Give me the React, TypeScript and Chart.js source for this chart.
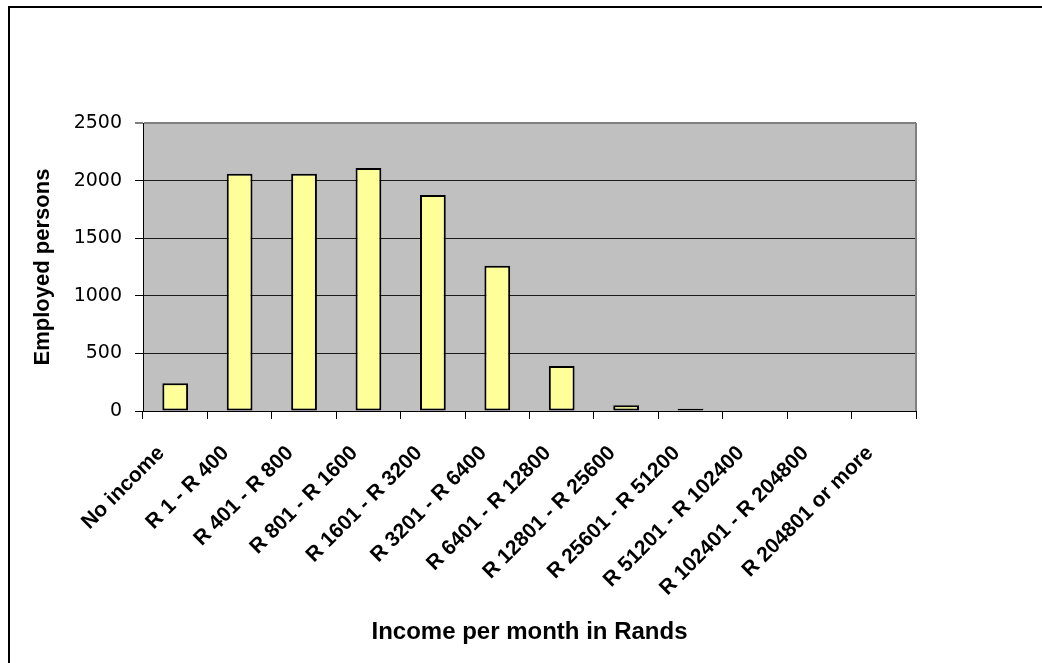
import React, { useEffect, useRef } from "react";
import { Chart, registerables } from "chart.js";

Chart.register(...registerables);

// Income bands (monthly, in Rand) and the number of employed persons in each
const incomeBands: string[] = [
  "No income",
  "R 1 - R 400",
  "R 401 - R 800",
  "R 801 - R 1600",
  "R 1601 - R 3200",
  "R 3201 - R 6400",
  "R 6401 - R 12800",
  "R 12801 - R 25600",
  "R 25601 - R 51200",
  "R 51201 - R 102400",
  "R 102401 - R 204800",
  "R 204801 or more",
];

const employedPersons: number[] = [240, 2060, 2060, 2110, 1875, 1260, 390, 50, 20, 0, 0, 0];

const yAxisMax = 2500;
const yAxisStep = 500;

const xAxisTitle = "Income per month in Rands";
const yAxisTitle = "Employed persons";

// Grey plot background plus the grey right-hand frame line
const plotFrame = {
  id: "plotFrame",
  beforeDraw(chart: Chart) {
    const { ctx, chartArea } = chart;
    ctx.save();
    ctx.fillStyle = "#C0C0C0";
    ctx.fillRect(chartArea.left, chartArea.top, chartArea.right - chartArea.left, chartArea.bottom - chartArea.top);
    ctx.restore();
  },
  beforeDatasetsDraw(chart: Chart) {
    const { ctx, chartArea } = chart;
    ctx.save();
    ctx.strokeStyle = "#808080";
    ctx.lineWidth = 2;
    ctx.beginPath();
    ctx.moveTo(chartArea.right, chartArea.top);
    ctx.lineTo(chartArea.right, chartArea.bottom);
    ctx.stroke();
    ctx.restore();
  },
};

function IncomeChart() {
  const canvasRef = useRef<HTMLCanvasElement | null>(null);

  useEffect(() => {
    if (!canvasRef.current) return;
    Chart.defaults.font.family = "'Liberation Sans', Arial, sans-serif";
    Chart.defaults.color = "#000";

    const chart = new Chart(canvasRef.current, {
      type: "bar",
      data: {
        labels: incomeBands,
        datasets: [
          {
            data: employedPersons,
            backgroundColor: "#FFFF99",
            borderColor: "#000",
            borderWidth: 2,
            borderSkipped: false,
            barPercentage: 0.4,
            categoryPercentage: 1,
          },
        ],
      },
      options: {
        animation: false,
        responsive: false,
        layout: { padding: { top: 115, right: 126, left: 0, bottom: 0 } },
        plugins: {
          legend: { display: false },
          tooltip: { enabled: false },
        },
        scales: {
          x: {
            afterFit(scale: any) {
              scale.height = 252;
            },
            offset: true,
            grid: {
              offset: true,
              drawOnChartArea: false,
              drawTicks: true,
              tickLength: 8,
              color: "#000",
            },
            border: { color: "#000", width: 1 },
            ticks: {
              autoSkip: false,
              maxRotation: 45,
              minRotation: 45,
              padding: 22,
              labelOffset: -14,
              color: "#000",
              font: { size: 21, weight: "bold" },
            },
            title: {
              display: true,
              text: xAxisTitle,
              color: "#000",
              font: { size: 24, weight: "bold" },
              padding: { top: 0, bottom: 16 },
            },
          },
          y: {
            afterFit(scale: any) {
              scale.width = 133;
            },
            min: 0,
            max: yAxisMax,
            grid: {
              color: (c: any) => (c.tick && c.tick.value === yAxisMax ? "#808080" : "#1a1a1a"),
              lineWidth: (c: any) => (c.tick && c.tick.value === yAxisMax ? 2 : 1),
              tickColor: "#000",
              tickLength: 8,
              tickWidth: 1,
            },
            border: { color: "#000", width: 1 },
            ticks: {
              stepSize: yAxisStep,
              padding: 13,
              color: "#000",
              callback: (v: any) => String(v),
              font: { family: "'DejaVu Sans', sans-serif", size: 19 },
            },
            title: {
              display: true,
              text: yAxisTitle,
              color: "#000",
              font: { size: 22, weight: "bold" },
              padding: { top: 20, bottom: 0 },
            },
          },
        },
      },
      plugins: [plotFrame],
    });

    return () => chart.destroy();
  }, []);

  return (
    <>
      <div
        style={{
          position: "fixed",
          left: 8,
          top: 6,
          width: 1034,
          height: 657,
          borderLeft: "2px solid #000",
          borderTop: "2px solid #000",
          boxSizing: "border-box",
          background: "#fff",
        }}
      />
      <div style={{ position: "fixed", left: 10, top: 8, width: 1032, height: 655 }}>
        <canvas ref={canvasRef} width={1032} height={655} style={{ display: "block" }} />
      </div>
    </>
  );
}

export default function App() {
  return <IncomeChart />;
}
